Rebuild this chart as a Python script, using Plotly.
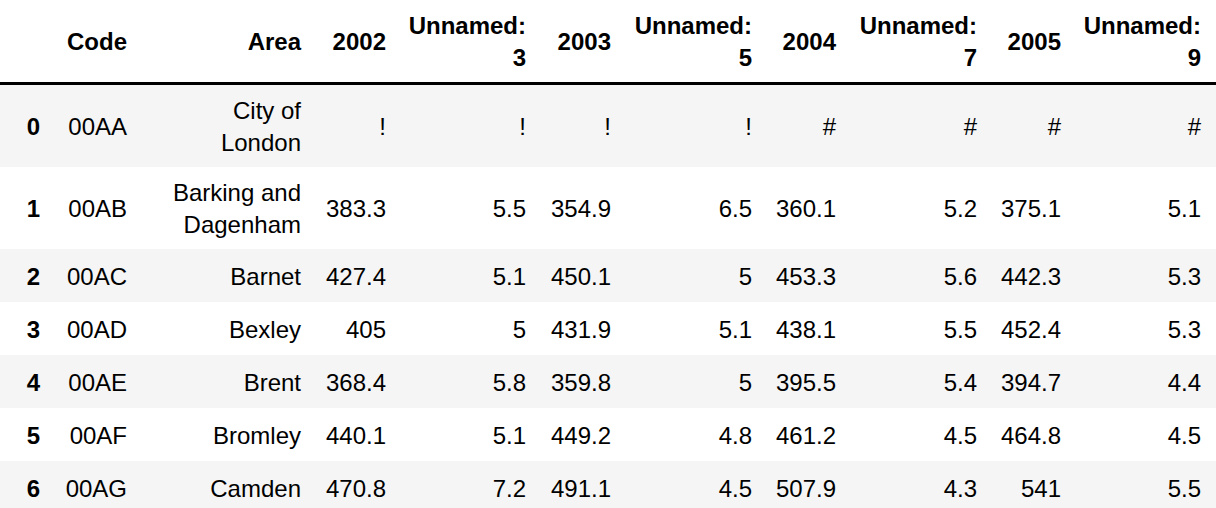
import plotly.graph_objects as go

# head() of the dataframe, as printed in the notebook
index = ["0", "1", "2", "3", "4", "5", "6"]
codes = ["00AA", "00AB", "00AC", "00AD", "00AE", "00AF", "00AG"]
areas = ["City of<br>London", "Barking and<br>Dagenham", "Barnet", "Bexley",
         "Brent", "Bromley", "Camden"]
y2002 = ["!", "383.3", "427.4", "405", "368.4", "440.1", "470.8"]
unnamed3 = ["!", "5.5", "5.1", "5", "5.8", "5.1", "7.2"]
y2003 = ["!", "354.9", "450.1", "431.9", "359.8", "449.2", "491.1"]
unnamed5 = ["!", "6.5", "5", "5.1", "5", "4.8", "4.5"]
y2004 = ["#", "360.1", "453.3", "438.1", "395.5", "461.2", "507.9"]
unnamed7 = ["#", "5.2", "5.6", "5.5", "5.4", "4.5", "4.3"]
y2005 = ["#", "375.1", "442.3", "452.4", "394.7", "464.8", "541"]
unnamed9 = ["#", "5.1", "5.3", "5.3", "4.4", "4.5", "5.5"]

columns = ["", "Code", "Area", "2002", "Unnamed:<br>3", "2003", "Unnamed:<br>5",
           "2004", "Unnamed:<br>7", "2005", "Unnamed:<br>9"]
body = [index, codes, areas, y2002, unnamed3, y2003, unnamed5,
        y2004, unnamed7, y2005, unnamed9]

W, H = 1216, 508
FONT = "Liberation Sans, Arial, Helvetica, sans-serif"
FSIZE = 24
PAD = 11            # right padding inside a cell
LINE_H = 29         # extra height per text line
ROW_PAD = 24        # vertical padding of a row
RULE_W = 3          # black rule under the header
TEXT_DY = 3         # plotly sits text a touch above its anchor
STRIPE = "#f5f5f5"

col_widths = [51, 87, 174, 85, 140, 85, 141, 84, 141, 84, 140]


def n_lines(s):
    return s.count("<br>") + 1


# row heights follow the tallest cell of each row
header_h = ROW_PAD + LINE_H * max(n_lines(c) for c in columns)
row_h = [ROW_PAD + LINE_H * max(n_lines(col[i]) for col in body)
         for i in range(len(index))]
row_mid = []
top = header_h + RULE_W
for h in row_h:
    row_mid.append(top + h / 2)
    top += h

col_right = []
edge = 0
for w in col_widths:
    edge += w
    col_right.append(edge - PAD)
table_w = W

fig = go.Figure()

# zebra stripes of the body rows
fig.add_trace(go.Bar(
    orientation="h", y=row_mid, x=[table_w] * len(row_mid), base=0,
    width=row_h,
    marker=dict(color=[STRIPE if i % 2 == 0 else "white"
                       for i in range(len(row_mid))], line_width=0),
    hoverinfo="skip",
))

# header labels
fig.add_trace(go.Scatter(
    x=col_right, y=[header_h / 2 + TEXT_DY] * len(columns),
    text=["<b>%s</b>" % c for c in columns],
    mode="text", textposition="middle left",
    textfont=dict(family=FONT, size=FSIZE, color="black"),
    hoverinfo="skip",
))

# cell values, one column at a time
for j, col in enumerate(body):
    labels = ["<b>%s</b>" % v for v in col] if j == 0 else col
    fig.add_trace(go.Scatter(
        x=[col_right[j]] * len(col), y=[m + TEXT_DY for m in row_mid],
        text=labels, mode="text", textposition="middle left",
        textfont=dict(family=FONT, size=FSIZE, color="black"),
        hoverinfo="skip",
    ))

# rule under the header
rule_y = header_h + RULE_W / 2
fig.add_shape(type="line", xref="x", yref="y", x0=0, x1=table_w,
              y0=rule_y, y1=rule_y, line=dict(color="black", width=RULE_W))

fig.update_xaxes(range=[0, W], visible=False, fixedrange=True)
fig.update_yaxes(range=[H, 0], visible=False, fixedrange=True)
fig.update_layout(width=W, height=H, margin=dict(l=0, r=0, t=0, b=0),
                  paper_bgcolor="white", plot_bgcolor="white",
                  showlegend=False, bargap=0)
fig.write_html("out.html", config={"displayModeBar": False},
               post_script="document.body.style.margin='0';")
